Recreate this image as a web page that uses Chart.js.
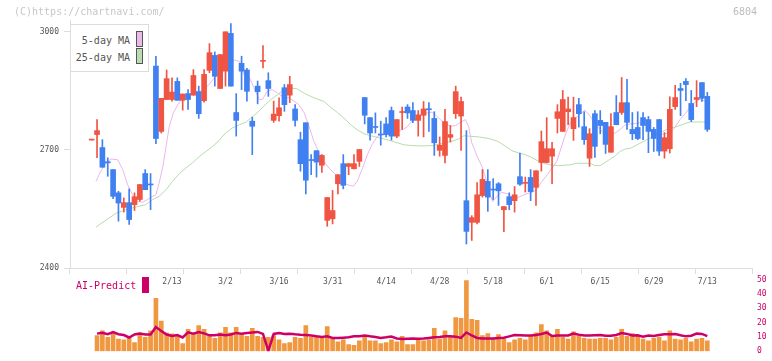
<!DOCTYPE html>
<html>
<head>
<meta charset="utf-8">
<script src="https://cdn.jsdelivr.net/npm/chart.js@4.4.0/dist/chart.umd.min.js"></script>
<style>
  body { margin: 0; background: #fff; }
  #wrap { position: relative; width: 772px; height: 361px; overflow: hidden; font-family: "DejaVu Sans Mono", monospace; }
  #mainChart { position: absolute; left: 0; top: 0; }
  #volChart { position: absolute; left: 0; top: 270px; }
  .txt { position: absolute; white-space: pre; line-height: 12px; font-size: 10px; }
  #legend { position: absolute; left: 70px; top: 24px; width: 77px; height: 46px; border: 1px solid #dcdcdc; background: #fff; }
  .swatch { position: absolute; width: 5px; height: 14px; border: 1px solid #555; }
</style>
</head>
<body>
<div id="wrap">
  <canvas id="mainChart" width="772" height="300"></canvas>
  <canvas id="volChart" width="772" height="91"></canvas>
  <div class="txt" style="left:14px; top:6px; color:#c8c8c8;">(C)https://chartnavi.com/</div>
  <div class="txt" style="left:733px; top:6px; color:#bdbdbd;">6804</div>
  <div id="legend">
    <div class="txt" style="right:18px; top:10px; color:#555;">5-day MA</div>
    <div class="swatch" style="left:65px; top:6px; background:#ecb9ec;"></div>
    <div class="txt" style="right:18px; top:27px; color:#555;">25-day MA</div>
    <div class="swatch" style="left:65px; top:23px; background:#badcb2;"></div>
  </div>
  <div class="txt" style="left:76px; top:280px; color:#cc0066;">AI-Predict</div>
  <div style="position:absolute; left:142px; top:277px; width:7px; height:16px; background:#cc0066;"></div>
</div>
<script>
// candles, oldest first
const opens = [2725, 2739, 2706, 2670, 2650, 2591, 2554, 2566, 2561, 2574,
  2640, 2613, 2913, 2747, 2828, 2828, 2874, 2826, 2843, 2839,
  2848, 2825, 2902, 2940, 2856, 2900, 2996, 2795, 2920, 2903,
  2773, 2862, 2925, 2876, 2775, 2787, 2858, 2839, 2804, 2726,
  2769, 2675, 2698, 2661, 2521, 2525, 2614, 2665, 2658, 2652,
  2671, 2833, 2782, 2759, 2740, 2766, 2800, 2735, 2795, 2809,
  2800, 2775, 2788, 2803, 2780, 2699, 2686, 2732, 2792, 2786,
  2571, 2516, 2516, 2584, 2620, 2600, 2614, 2548, 2581, 2571,
  2632, 2615, 2630, 2605, 2668, 2668, 2684, 2780, 2747, 2797,
  2754, 2815, 2759, 2679, 2792, 2775, 2770, 2694, 2795, 2795,
  2820, 2752, 2757, 2782, 2777, 2752, 2777, 2697, 2703, 2810,
  2856, 2874, 2818, 2828, 2871, 2836]
const highs = [2726, 2777, 2726, 2680, 2650, 2595, 2578, 2601, 2591, 2612,
  2650, 2640, 2938, 2831, 2903, 2883, 2883, 2842, 2853, 2904,
  2862, 2904, 2970, 2949, 2942, 3000, 3021, 2843, 2938, 2907,
  2783, 2875, 2965, 2896, 2824, 2832, 2866, 2887, 2815, 2745,
  2769, 2688, 2698, 2688, 2579, 2597, 2637, 2688, 2665, 2688,
  2701, 2833, 2782, 2794, 2773, 2782, 2809, 2777, 2809, 2815,
  2820, 2800, 2823, 2820, 2797, 2733, 2803, 2762, 2862, 2834,
  2749, 2533, 2617, 2650, 2650, 2627, 2617, 2556, 2591, 2607,
  2692, 2631, 2650, 2647, 2748, 2782, 2719, 2815, 2851, 2834,
  2834, 2831, 2797, 2754, 2800, 2800, 2770, 2792, 2838, 2884,
  2879, 2795, 2797, 2795, 2785, 2757, 2777, 2744, 2835, 2864,
  2869, 2881, 2851, 2876, 2871, 2846]
const lows = [2725, 2680, 2656, 2633, 2576, 2519, 2542, 2511, 2546, 2570,
  2599, 2548, 2716, 2743, 2828, 2824, 2826, 2801, 2803, 2839,
  2780, 2821, 2896, 2862, 2856, 2862, 2862, 2735, 2853, 2824,
  2688, 2817, 2908, 2836, 2770, 2773, 2798, 2820, 2760, 2646,
  2588, 2637, 2631, 2643, 2506, 2512, 2588, 2601, 2637, 2652,
  2658, 2766, 2725, 2743, 2712, 2733, 2725, 2731, 2752, 2780,
  2769, 2735, 2733, 2747, 2686, 2684, 2667, 2720, 2780, 2699,
  2461, 2470, 2512, 2580, 2544, 2574, 2559, 2492, 2548, 2542,
  2610, 2593, 2571, 2559, 2646, 2667, 2614, 2743, 2747, 2764,
  2724, 2758, 2714, 2658, 2681, 2741, 2691, 2694, 2764, 2790,
  2752, 2726, 2726, 2726, 2693, 2696, 2686, 2679, 2692, 2803,
  2787, 2825, 2772, 2810, 2823, 2747]
const closes = [2726, 2749, 2656, 2667, 2582, 2565, 2566, 2523, 2581, 2612,
  2599, 2611, 2729, 2831, 2881, 2847, 2826, 2842, 2828, 2889,
  2792, 2892, 2947, 2887, 2942, 3000, 2862, 2775, 2900, 2849,
  2760, 2848, 2927, 2856, 2791, 2807, 2815, 2866, 2775, 2665,
  2623, 2673, 2669, 2686, 2579, 2546, 2637, 2610, 2665, 2665,
  2701, 2788, 2743, 2757, 2738, 2739, 2735, 2777, 2796, 2794,
  2775, 2789, 2804, 2802, 2718, 2712, 2772, 2739, 2848, 2823,
  2493, 2528, 2586, 2625, 2580, 2598, 2596, 2556, 2561, 2586,
  2613, 2617, 2594, 2647, 2721, 2703, 2703, 2797, 2828, 2804,
  2782, 2792, 2726, 2741, 2709, 2762, 2714, 2759, 2764, 2820,
  2770, 2741, 2729, 2762, 2747, 2729, 2697, 2731, 2803, 2833,
  2851, 2866, 2777, 2833, 2831, 2752]

// moving averages (position = candle number from 0)
const ma5Idx = [0.8, 1.7, 2.7, 3.6, 4.85, 5.8, 6.7, 7.65, 8.6, 9.5, 10.5, 11.4, 12.0, 12.6, 13.3, 13.9, 14.5, 15.25, 16.1, 17.0,
  17.9, 18.9, 20.1, 21.0, 21.9, 22.9, 23.8, 24.8, 25.7, 26.7, 27.6, 28.45, 29.4, 30.3, 31.3, 31.9, 32.8, 33.7, 34.7, 35.6,
  36.9, 37.8, 38.7, 39.7, 40.6, 41.5, 42.5, 43.4, 44.3, 45.3, 46.2, 47.1, 48.1, 48.9, 49.6, 50.5, 51.5, 52.4, 53.4, 54.3,
  55.2, 56.5, 57.4, 58.3, 58.9, 59.8, 60.8, 61.7, 62.6, 63.6, 64.3, 65.1, 66.1, 67.0, 68.0, 68.9, 69.8, 70.4, 71.0, 72.0,
  72.9, 73.7, 74.3, 74.9, 75.7, 76.6, 77.6, 78.5, 79.4, 80.4, 81.3, 82.3, 83.2, 84.1, 85.1, 86.0, 86.9, 87.5, 88.4, 89.35,
  90.3, 91.2, 92.15, 93.1, 94.0, 94.95, 95.9, 96.8, 97.8, 98.7, 99.6, 100.6, 101.5, 102.4, 103.4, 104.3, 105.2, 106.2, 107.1, 108.0,
  109.0, 109.9, 110.8, 111.8, 112.7, 113.6, 114.6]
const ma5 = [2620, 2646, 2667, 2677, 2675, 2650, 2612, 2586, 2569, 2567, 2574, 2582, 2586, 2616, 2658, 2709, 2760, 2794, 2815, 2832,
  2841, 2845, 2848, 2853, 2866, 2883, 2896, 2909, 2921, 2928, 2925, 2891, 2886, 2858, 2828, 2828, 2849, 2853, 2845, 2836,
  2832, 2824, 2815, 2794, 2760, 2722, 2692, 2671, 2654, 2641, 2629, 2616, 2610, 2608, 2620, 2650, 2688, 2714, 2735, 2739,
  2741, 2745, 2749, 2753, 2758, 2773, 2781, 2790, 2794, 2796, 2788, 2777, 2767, 2760, 2762, 2770, 2777, 2760, 2718, 2684,
  2658, 2625, 2591, 2569, 2582, 2592, 2589, 2580, 2578, 2584, 2589, 2592, 2601, 2620, 2637, 2654, 2671, 2697, 2735, 2767,
  2780, 2790, 2801, 2786, 2767, 2752, 2739, 2739, 2743, 2752, 2763, 2766, 2767, 2769, 2764, 2752, 2743, 2739, 2741, 2743,
  2758, 2777, 2791, 2809, 2821, 2828, 2824]
const ma25Idx = [0.8, 2.7, 4.55, 6.4, 8.3, 10.1, 11.4, 12.6, 13.9, 15.1, 16.4, 17.6, 18.9, 20.1, 21.35, 22.6, 23.8, 25.0, 26.3, 27.6,
  28.8, 29.7, 30.9, 32.2, 33.4, 34.7, 35.9, 37.2, 38.4, 39.7, 40.9, 42.15, 43.4, 44.6, 45.9, 47.1, 48.4, 49.6, 50.9, 52.1,
  53.35, 54.6, 55.9, 57.1, 58.35, 59.8, 61.7, 63.6, 65.4, 67.3, 68.6, 69.5, 70.4, 72.3, 74.2, 76.0, 77.3, 78.5, 79.8, 81.0,
  82.3, 83.5, 84.7, 86.0, 87.2, 89.35, 90.6, 93.1, 94.0, 95.0, 95.9, 96.8, 97.8, 98.7, 99.6, 100.6, 101.5, 102.4, 103.4, 104.3,
  105.2, 106.2, 107.1, 108.0, 109.0, 109.9, 110.8, 111.8, 112.7, 113.6, 114.6]
const ma25 = [2504, 2522, 2539, 2548, 2555, 2561, 2574, 2582, 2599, 2620, 2640, 2654, 2668, 2683, 2696, 2709, 2724, 2743, 2756, 2764,
  2770, 2781, 2794, 2812, 2827, 2840, 2853, 2857, 2855, 2844, 2836, 2829, 2823, 2809, 2795, 2781, 2764, 2751, 2741, 2736,
  2732, 2728, 2723, 2718, 2713, 2711, 2710, 2711, 2716, 2722, 2728, 2736, 2735, 2733, 2729, 2721, 2709, 2698, 2692, 2688,
  2680, 2671, 2665, 2661, 2660, 2662, 2666, 2666, 2660, 2660, 2668, 2676, 2685, 2696, 2702, 2704, 2710, 2717, 2724, 2730,
  2739, 2743, 2750, 2756, 2758, 2762, 2767, 2771, 2771, 2771, 2771]

// lower panel, starts at the second candle
const volume = [11.0, 14.2, 9.7, 12.5, 8.5, 7.9, 9.3, 6.0, 12.7, 9.7,
  14.2, 37.0, 21.1, 12.7, 12.1, 11.0, 5.3, 15.4, 11.6, 17.9,
  15.4, 10.4, 9.1, 12.9, 16.7, 12.9, 16.7, 11.6, 10.4, 16.0,
  10.4, 9.7, 9.7, 11.0, 7.9, 5.3, 6.0, 9.7, 9.1, 17.9,
  9.7, 10.4, 9.1, 17.3, 8.5, 6.6, 7.9, 4.7, 4.1, 7.2,
  10.4, 7.2, 7.2, 5.3, 6.0, 7.9, 6.6, 10.4, 4.7, 4.7,
  9.1, 7.2, 7.9, 16.0, 8.5, 14.2, 10.4, 23.6, 23.0, 49.4,
  22.3, 21.7, 11.0, 12.3, 9.1, 11.6, 8.5, 6.0, 7.9, 9.1,
  7.9, 11.0, 12.9, 18.6, 14.2, 11.0, 15.4, 9.7, 8.5, 13.5,
  11.6, 9.1, 8.5, 8.5, 9.1, 9.1, 7.9, 9.7, 15.4, 10.4,
  12.3, 11.0, 8.5, 7.2, 9.1, 9.7, 7.2, 14.2, 8.5, 7.9,
  9.1, 6.6, 8.5, 9.1, 7.2]
const aiPredict = [12.3, 12.9, 11.9, 13.4, 11.9, 11.3, 9.6, 11.7, 12.3, 11.7,
  11.7, 16.9, 14.2, 11.7, 10.7, 11.3, 9.6, 13.2, 12.3, 13.4,
  12.5, 11.1, 11.1, 11.7, 11.1, 11.7, 12.8, 12.3, 12.8, 13.1,
  13.5, 12.1, 0.3, 12.1, 12.7, 12.1, 12.3, 11.9, 11.6, 11.4,
  11.0, 10.4, 10.0, 10.4, 9.3, 9.3, 9.5, 9.7, 10.4, 10.4,
  11.0, 10.4, 10.0, 9.3, 9.7, 10.2, 8.9, 8.5, 8.7, 8.9,
  8.7, 8.9, 9.3, 9.7, 10.0, 10.4, 10.4, 10.2, 9.3, 13.1,
  11.0, 9.3, 8.9, 8.9, 8.9, 9.3, 9.5, 10.4, 11.4, 11.2,
  11.0, 11.0, 11.4, 12.1, 13.1, 10.6, 11.0, 11.0, 11.0, 12.3,
  11.6, 11.0, 11.0, 11.2, 11.4, 10.8, 10.8, 11.4, 12.7, 12.1,
  11.0, 11.2, 10.2, 11.0, 10.6, 11.4, 11.9, 11.9, 12.1, 11.2,
  10.4, 10.8, 12.3, 12.1, 10.6]

const dateLabels = ["2/13", "3/2", "3/16", "3/31", "4/14", "4/28", "5/18", "6/1", "6/15", "6/29", "7/13"]
const dateIdx = [15, 25, 35, 45, 55, 65, 75, 85, 95, 105, 115]
const priceTicks = [2400, 2700, 3000]

const upColor = "rgb(240,84,66)"
const downColor = "rgb(64,128,240)"
const monoFont = "'DejaVu Sans Mono', monospace"
const xMin = -4.05
const xMax = 123.35

const candleColors = closes.map((c, i) => (c >= opens[i] ? upColor : downColor))

new Chart(document.getElementById("mainChart"), {
  type: "bar",
  data: {
    datasets: [
      {
        type: "line",
        xAxisID: "x",
        yAxisID: "y",
        data: ma25Idx.map((x, i) => ({ x: x, y: ma25[i] })),
        borderColor: "#b6dcab",
        borderWidth: 1,
        pointRadius: 0,
        order: 4,
      },
      {
        type: "line",
        xAxisID: "x",
        yAxisID: "y",
        data: ma5Idx.map((x, i) => ({ x: x, y: ma5[i] })),
        borderColor: "#ebb6eb",
        borderWidth: 1,
        pointRadius: 0,
        order: 3,
      },
      {
        // wicks
        xAxisID: "x",
        yAxisID: "y",
        data: lows.map((l, i) => ({ x: i, y: [l, highs[i]] })),
        backgroundColor: candleColors,
        barThickness: 1,
        grouped: false,
        order: 2,
      },
      {
        // bodies
        xAxisID: "x",
        yAxisID: "y",
        data: opens.map((o, i) => ({ x: i, y: [o, closes[i]] })),
        backgroundColor: candleColors,
        barThickness: 5,
        minBarLength: 1,
        grouped: false,
        order: 1,
      },
    ],
  },
  options: {
    responsive: false,
    animation: false,
    layout: { padding: { top: 20, right: 20, left: 0, bottom: 0 } },
    plugins: { legend: { display: false }, tooltip: { enabled: false } },
    scales: {
      x: {
        type: "linear",
        position: "bottom",
        min: xMin,
        max: xMax,
        offset: false,
        weight: 1,
        grid: { display: false, drawTicks: false },
        border: { display: false },
        ticks: {
          autoSkip: false,
          maxRotation: 0,
          padding: 3,
          color: "#555",
          font: { family: monoFont, size: 8 },
          callback: (v, i) => dateLabels[i],
        },
        afterBuildTicks: (s) => { s.ticks = dateIdx.map((v) => ({ value: v })) },
        afterFit: (s) => { s.height = 26 },
      },
      xg: {
        type: "linear",
        position: "bottom",
        min: 0,
        max: 11,
        weight: 0,
        ticks: { stepSize: 1, display: false },
        grid: { drawOnChartArea: false, color: "#dddddd", tickLength: 6 },
        border: { color: "#dddddd" },
        afterFit: (s) => { s.height = 6 },
      },
      y: {
        position: "left",
        min: 2400,
        max: 3030,
        grid: { drawOnChartArea: false, color: "#dddddd", tickLength: 6 },
        border: { color: "#dddddd" },
        ticks: {
          padding: 5,
          color: "#555",
          font: { family: monoFont, size: 8 },
          callback: (v) => String(v),
        },
        afterBuildTicks: (s) => { s.ticks = priceTicks.map((v) => ({ value: v })) },
        afterFit: (s) => { s.width = 70 },
      },
    },
  },
})

new Chart(document.getElementById("volChart"), {
  type: "bar",
  data: {
    datasets: [
      {
        type: "line",
        data: aiPredict.map((v, i) => ({ x: i + 1, y: v })),
        borderColor: "#cc0066",
        borderWidth: 2.5,
        pointRadius: 0,
        order: 1,
      },
      {
        data: volume.map((v, i) => ({ x: i + 1, y: v })),
        backgroundColor: "rgb(240,152,64)",
        barThickness: 4,
        order: 2,
      },
    ],
  },
  options: {
    responsive: false,
    animation: false,
    layout: { padding: { top: 7.7, right: 0, left: 70, bottom: 3.5 } },
    plugins: { legend: { display: false }, tooltip: { enabled: false } },
    scales: {
      x: { type: "linear", min: xMin, max: xMax, offset: false, display: false },
      y: {
        position: "right",
        min: 0,
        max: 50,
        grid: { display: false, drawTicks: false },
        border: { display: false },
        ticks: { stepSize: 10, padding: 5, color: "#cc0066", font: { family: monoFont, size: 8 } },
        afterFit: (s) => { s.width = 20 },
      },
    },
  },
})
</script>
</body>
</html>
